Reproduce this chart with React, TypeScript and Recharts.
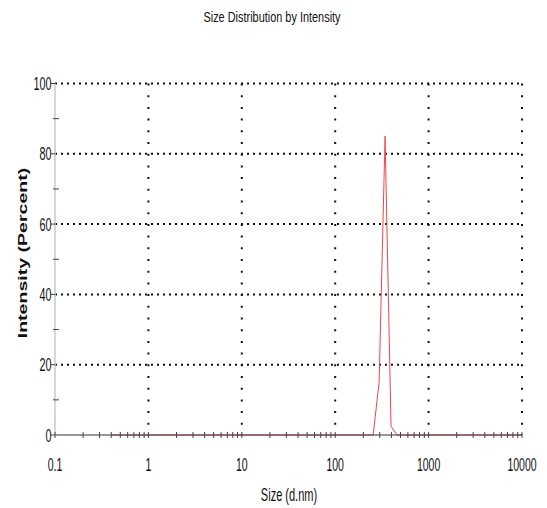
import React from "react";
import { LineChart, Line, XAxis, YAxis, CartesianGrid } from "recharts";

// size bins (d.nm) and intensity (%) per bin
const sizes = [
  0.4, 0.4632, 0.5365, 0.6213, 0.7195, 0.8332, 0.9649, 1.117, 1.294, 1.499,
  1.736, 2.01, 2.328, 2.696, 3.122, 3.615, 4.187, 4.849, 5.615, 6.503,
  7.531, 8.721, 10.1, 11.7, 13.54, 15.69, 18.17, 21.04, 24.36, 28.21,
  32.67, 37.84, 43.82, 50.75, 58.77, 68.06, 78.82, 91.28, 105.7, 122.4,
  141.8, 164.2, 190.1, 220.2, 255.0, 295.3, 342.0, 396.1, 458.7, 531.2,
  615.1, 712.4, 825.0, 955.4, 1106, 1281, 1484, 1718, 1990, 2305,
  2669, 3091, 3580, 4145, 4801, 5560, 6439, 7456, 8635, 10000,
];
const intensity = [
  0, 0, 0, 0, 0, 0, 0, 0, 0, 0,
  0, 0, 0, 0, 0, 0, 0, 0, 0, 0,
  0, 0, 0, 0, 0, 0, 0, 0, 0, 0,
  0, 0, 0, 0, 0, 0, 0, 0, 0, 0,
  0, 0, 0, 0, 0, 15, 85, 2.5, 0, 0,
  0, 0, 0, 0, 0, 0, 0, 0, 0, 0,
  0, 0, 0, 0, 0, 0, 0, 0, 0, 0,
];

const xLabels = [0.1, 1, 10, 100, 1000, 10000];
const xTicks = [
  0.1, 0.2, 0.3, 0.4, 0.5, 0.6, 0.7, 0.8, 0.9,
  1, 2, 3, 4, 5, 6, 7, 8, 9,
  10, 20, 30, 40, 50, 60, 70, 80, 90,
  100, 200, 300, 400, 500, 600, 700, 800, 900,
  1000, 2000, 3000, 4000, 5000, 6000, 7000, 8000, 9000,
  10000,
];
const yTicks = [0, 10, 20, 30, 40, 50, 60, 70, 80, 90, 100];
const yLabels = [0, 20, 40, 60, 80, 100];

const data = sizes.map((s, i) => ({ size: s, value: intensity[i] }));

const FONT = "'Liberation Sans', Arial, sans-serif";

const XTick = (props: any) => {
  const { x, y, payload } = props;
  const v = payload.value;
  return (
    <g>
      <line x1={x} x2={x} y1={y - 3} y2={y + 3} stroke="#444" strokeWidth={1} />
      {xLabels.includes(v) && (
        <text
          transform={`translate(${x},${y + 35.5}) scale(0.6,1)`}
          textAnchor="middle"
          fontFamily={FONT}
          fontSize={17.5}
          fill="#111"
        >
          {String(v)}
        </text>
      )}
    </g>
  );
};

const YTick = (props: any) => {
  const { x, y, payload } = props;
  const v = payload.value;
  const major = yLabels.includes(v);
  return (
    <g>
      {major ? (
        <line x1={x - 4} x2={x} y1={y} y2={y} stroke="#444" strokeWidth={1} />
      ) : (
        <line x1={x - 2} x2={x + 4} y1={y} y2={y} stroke="#444" strokeWidth={1} />
      )}
      {major && (
        <text
          transform={`translate(${x - 3.5},${y + 6.5}) scale(0.62,1)`}
          textAnchor="end"
          fontFamily={FONT}
          fontSize={17.5}
          fill="#111"
        >
          {String(v)}
        </text>
      )}
    </g>
  );
};

export default function App() {
  return (
    <div style={{ position: "absolute", left: 0, top: 0, background: "#fff" }}>
      <LineChart
        width={547}
        height={508}
        data={data}
        margin={{ top: 83.5, right: 25, bottom: 13, left: 15 }}
      >
        <CartesianGrid
          vertical={false}
          horizontalValues={[20, 40, 60, 80, 100]}
          stroke="#111"
          strokeWidth={2}
          strokeDasharray="2 4"
        />
        <CartesianGrid
          horizontal={false}
          verticalValues={[1, 10, 100, 1000, 10000]}
          stroke="#111"
          strokeWidth={2}
          strokeDasharray="2 9.7"
        />
        <XAxis
          dataKey="size"
          type="number"
          scale="log"
          domain={[0.1, 10000]}
          allowDataOverflow
          ticks={xTicks}
          interval={0}
          height={60}
          tickSize={0}
          tickMargin={0}
          tickLine={false}
          tick={<XTick />}
          axisLine={{ stroke: "#333", strokeWidth: 1 }}
        />
        <YAxis
          type="number"
          domain={[0, 100]}
          ticks={yTicks}
          interval={0}
          width={40}
          tickSize={0}
          tickMargin={0}
          tickLine={false}
          tick={<YTick />}
          axisLine={{ stroke: "#c8c8c8", strokeWidth: 1.5 }}
        />
        <Line
          type="linear"
          dataKey="value"
          stroke="#f24646"
          strokeWidth={1}
          dot={false}
          isAnimationActive={false}
        />
        <text
          transform="translate(272,22) scale(0.78,1)"
          textAnchor="middle"
          fontFamily={FONT}
          fontSize={14}
          fill="#111"
        >
          Size Distribution by Intensity
        </text>
        <text
          transform="translate(289,501) scale(0.63,1)"
          textAnchor="middle"
          fontFamily={FONT}
          fontSize={17.5}
          fill="#111"
        >
          Size (d.nm)
        </text>
        <text
          transform="translate(27,253) rotate(-90) scale(1.45,1)"
          textAnchor="middle"
          fontFamily={FONT}
          fontSize={13.5}
          fontWeight="bold"
          fill="#111"
        >
          Intensity (Percent)
        </text>
      </LineChart>
    </div>
  );
}
